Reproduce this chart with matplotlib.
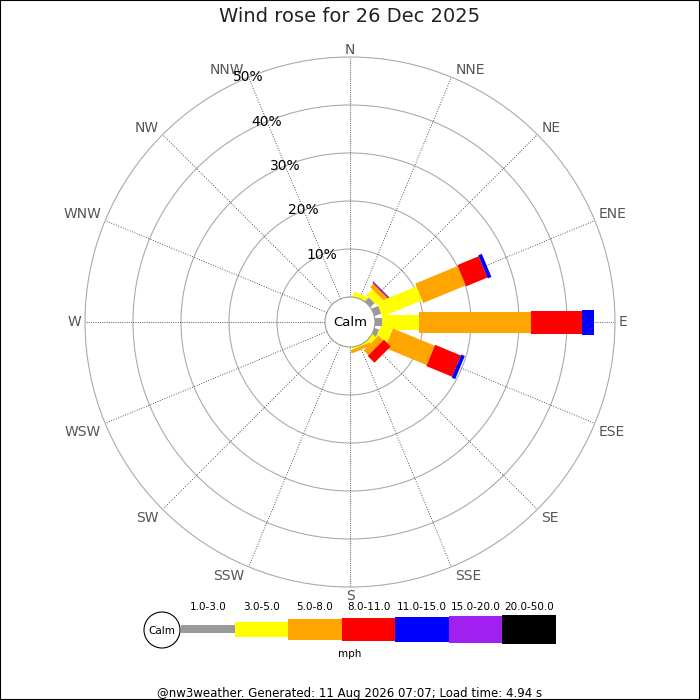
import numpy as np
import matplotlib
matplotlib.use('Agg')
import matplotlib.pyplot as plt
from matplotlib.patches import Polygon, Circle, Rectangle

# wind rose data (percent of time), one list per speed band, N clockwise
directions = ['N', 'NNE', 'NE', 'ENE', 'E', 'ESE', 'SE', 'SSE',
              'S', 'SSW', 'SW', 'WSW', 'W', 'WNW', 'NW', 'NNW']
speed_bins = ['1.0-3.0', '3.0-5.0', '5.0-8.0', '8.0-11.0',
              '11.0-15.0', '15.0-20.0', '20.0-50.0']
freq_1_3 = [0, 0, 1.2, 1.5, 1.4, 1.0, 0, 0, 0, 0, 0, 0, 0, 0, 0, 0]
freq_3_5 = [0, 1.0, 1.7, 8.9, 7.8, 2.6, 1.0, 0.3, 0, 0, 0, 0, 0, 0, 0, 0]
freq_5_8 = [0, 0, 0.95, 9.6, 23.2, 9.4, 1.4, 0.7, 0, 0, 0, 0, 0, 0, 0, 0]
freq_8_11 = [0, 0, 0.2, 4.8, 10.8, 5.8, 2.0, 0, 0, 0, 0, 0, 0, 0, 0, 0]
freq_11_15 = [0, 0, 0.15, 0.8, 2.4, 0.8, 0, 0, 0, 0, 0, 0, 0, 0, 0, 0]
freq_15_20 = [0] * 16
freq_20_50 = [0] * 16
freqs = [freq_1_3, freq_3_5, freq_5_8, freq_8_11, freq_11_15, freq_15_20, freq_20_50]
ring_pcts = [10, 20, 30, 40, 50]

colors = ['#999999', '#ffff00', '#ffa500', '#ff0000', '#0000ff', '#a020f0', '#000000']
widths = [8, 15, 21, 23, 25, 27, 29]   # bar thickness in px per band

# layout (pixels)
cx, cy = 350, 322
calm_r = 25
px_per_pct = 4.8


def radius(pct):
    return calm_r + pct * px_per_pct


def bar(ax, bearing, r0, r1, w, color):
    th = np.radians(bearing)
    u = np.array([np.sin(th), -np.cos(th)])
    v = np.array([np.cos(th), np.sin(th)])
    c = np.array([cx, cy])
    pts = [c + u * r0 - v * w / 2, c + u * r1 - v * w / 2,
           c + u * r1 + v * w / 2, c + u * r0 + v * w / 2]
    ax.add_patch(Polygon(pts, closed=True, facecolor=color, edgecolor='none', zorder=2))


fig = plt.figure(figsize=(7, 7), dpi=100)
ax = fig.add_axes([0, 0, 1, 1])
ax.set_xlim(0, 700)
ax.set_ylim(700, 0)
ax.axis('off')

# rings
for p in ring_pcts:
    ax.add_patch(Circle((cx, cy), radius(p), fill=False, edgecolor='#aaaaaa', lw=0.8, zorder=1))

# spokes and direction labels
outer = radius(ring_pcts[-1])
for i, d in enumerate(directions):
    th = np.radians(i * 22.5)
    s, c = np.sin(th), -np.cos(th)
    if i % 4 == 0:
        ax.plot([cx + s * calm_r, cx + s * outer], [cy + c * calm_r, cy + c * outer],
                color='#777777', lw=0.8, ls=(0, (1, 1)), zorder=1)
    else:
        ax.plot([cx + s * calm_r, cx + s * outer], [cy + c * calm_r, cy + c * outer],
                color='#222222', lw=0.6, ls=(0, (1, 2)), zorder=1)
    ex, ey = cx + s * outer, cy + c * outer
    if s > 0.01:
        ha, ex = 'left', ex + 4
    elif s < -0.01:
        ha, ex = 'right', ex - 4
    else:
        ha = 'center'
    if c < -0.01:
        va, ey = 'baseline', ey - 3
    elif c > 0.01:
        va, ey = 'top', ey + 2
    else:
        va = 'center'
    ax.text(ex, ey, d, ha=ha, va=va, fontsize=10, color='#555555')

# percentage labels along NNW
th = np.radians(337.5)
for p in ring_pcts:
    r = radius(p)
    ax.text(cx + np.sin(th) * r, cy - np.cos(th) * r, f'{p}%', ha='center', va='center',
            fontsize=10, color='black', zorder=5)

# bars
for i in range(len(directions)):
    cum = 0
    for b in range(len(speed_bins)):
        val = freqs[b][i]
        if val <= 0:
            continue
        r0 = 0 if cum == 0 else radius(cum)
        cum += val
        bar(ax, i * 22.5, r0, radius(cum), widths[b], colors[b])

# calm circle
ax.add_patch(Circle((cx, cy), calm_r, facecolor='white', edgecolor='#999999', lw=0.8, zorder=3))
ax.text(cx, cy, 'Calm', ha='center', va='center', fontsize=9.5, zorder=4)

ax.text(350, 17, 'Wind rose for 26 Dec 2025', ha='center', va='center', fontsize=14, color='#222222')

# legend
lx0, lx1, ly = 181, 556, 629
seg = (lx1 - lx0) / len(speed_bins)
ax.add_patch(Circle((162, 630), 18, facecolor='white', edgecolor='black', lw=0.8))
ax.text(162, 631, 'Calm', ha='center', va='center', fontsize=7.5)
for b, lab in enumerate(speed_bins):
    x0 = lx0 + b * seg
    ax.add_patch(Rectangle((x0, ly - widths[b] / 2), seg, widths[b],
                           facecolor=colors[b], edgecolor='none'))
    ax.text(x0 + seg / 2, 607, lab, ha='center', va='center', fontsize=7.5)
ax.text(350, 654, 'mph', ha='center', va='center', fontsize=7.5)

ax.text(350, 693, '@nw3weather. Generated: 11 Aug 2026 07:07; Load time: 4.94 s',
        ha='center', va='center', fontsize=8.5)

# border
fig.patches.append(Rectangle((0, 0), 1, 1, transform=fig.transFigure, fill=False,
                             edgecolor='black', lw=1.5))

fig.savefig('out.png', dpi=100)
